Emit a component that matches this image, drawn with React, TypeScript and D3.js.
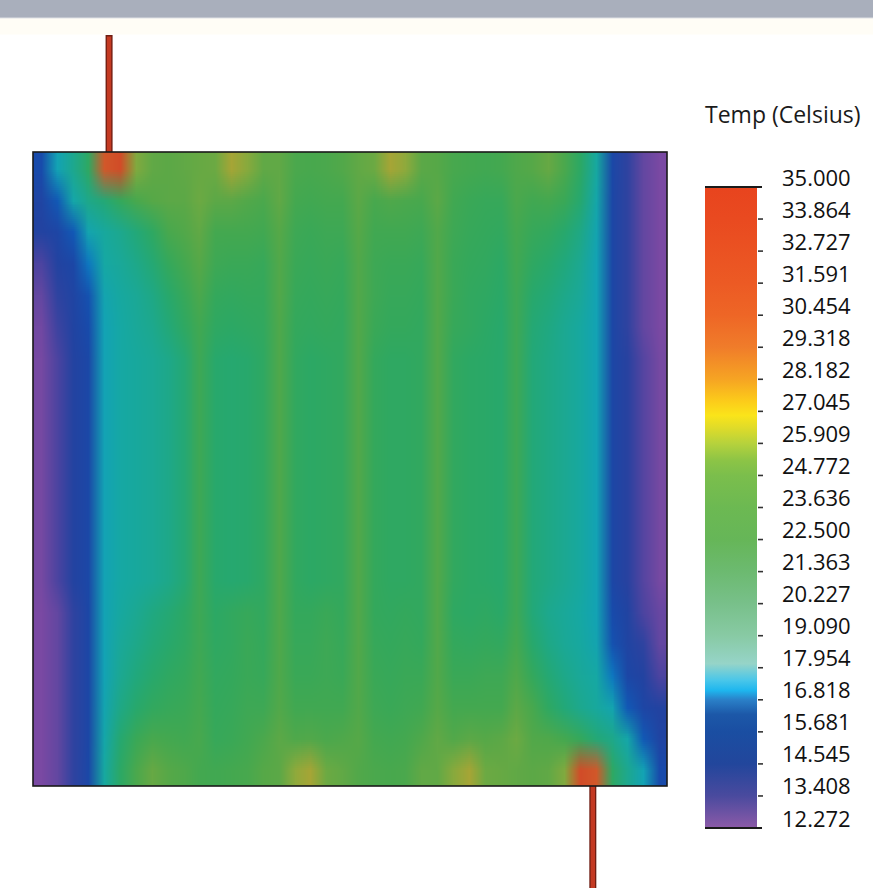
import React, { useMemo } from "react";
import * as d3 from "d3";

const W = 873;
const H = 888;

// legend ticks (Temp, Celsius)
const tickLabels = [
  "35.000", "33.864", "32.727", "31.591", "30.454", "29.318", "28.182",
  "27.045", "25.909", "24.772", "23.636", "22.500", "21.363", "20.227",
  "19.090", "17.954", "16.818", "15.681", "14.545", "13.408", "12.272",
];
const tMax = 35.0;
const tMin = 12.272;

// colour ramp of the legend bar
const legendStops = [35.0, 33.864, 31.591, 30.454, 29.318, 28.182, 27.4, 26.9, 26.5, 25.909, 25.3, 24.772, 23.636, 22.5, 21.363, 20.227, 19.09, 18.1, 17.5, 17.15, 16.818, 16.3, 15.681, 14.545, 13.408, 12.272];
const legendColors = ["#e8441e", "#e94a20", "#ec5a24", "#ee6626", "#f07c2a", "#f6a423", "#fccc1a", "#fae41a", "#e2dc28", "#b6d23c", "#8cc446", "#7bbe4c", "#6cb952", "#66b658", "#6cba70", "#78c08a", "#88caa4", "#96d4c8", "#48c6ea", "#1eb6ee", "#2a80c8", "#1c58a8", "#1a4ea2", "#22469c", "#4a4a9e", "#8c5aa8"];

// same ramp as rendered (shaded) on the plate
const fieldStops = [12.3, 13.4, 14.5, 15.7, 16.6, 17.3, 18.2, 19.2, 20.3, 21.2, 22.0, 23.0, 24.0, 25.0, 26.0, 27.0, 28.5, 30.5, 33.0, 35.0];
const fieldColors = ["#7f4aa3", "#4c44a0", "#2442a0", "#1a48a8", "#0c66c0", "#12a0bc", "#16a8a4", "#1ca892", "#22a87a", "#2aa868", "#34a85c", "#44a850", "#56a848", "#72aa42", "#96aa3a", "#b0a234", "#c68a30", "#d06a2c", "#d24c28", "#cc3e22"];

// plate temperatures, 40 columns (left -> right), rows top -> bottom
const row00 = [15.8, 17.6, 19.4, 21.6, 32.0, 33.0, 25.4, 24.4, 24.2, 24.4, 24.6, 24.8, 26.6, 25.6, 24.4, 24.4, 23.4, 23.2, 23.4, 23.8, 24.4, 24.8, 26.6, 25.8, 24.2, 24.0, 23.2, 23.0, 22.8, 23.0, 23.6, 24.0, 24.6, 23.4, 21.4, 18.4, 15.6, 14.2, 12.9, 12.4];
const row01 = [15.0, 16.2, 18.0, 19.6, 20.5, 22.0, 23.2, 24.0, 24.2, 24.2, 24.8, 24.2, 24.2, 23.8, 23.4, 24.4, 23.0, 22.8, 23.0, 23.0, 24.2, 23.2, 23.6, 23.4, 23.2, 24.2, 22.8, 22.4, 22.2, 22.2, 23.4, 22.8, 23.0, 22.4, 20.8, 18.0, 15.4, 14.2, 12.9, 12.4];
const row02 = [14.6, 15.2, 16.2, 17.8, 18.6, 19.4, 20.4, 21.6, 23.2, 23.8, 24.4, 23.0, 23.0, 23.0, 22.8, 24.0, 22.6, 22.4, 22.6, 22.6, 24.0, 22.8, 22.8, 22.8, 22.6, 23.8, 22.6, 22.2, 22.0, 21.8, 23.0, 22.2, 21.8, 21.0, 19.8, 17.8, 15.4, 14.2, 12.9, 12.4];
const row03 = [13.4, 14.6, 15.4, 16.8, 18.2, 18.8, 19.6, 20.6, 22.0, 23.0, 24.0, 22.6, 22.4, 22.4, 22.2, 23.8, 22.4, 22.2, 22.4, 22.2, 23.8, 22.6, 22.4, 22.4, 22.2, 23.8, 22.4, 22.0, 21.8, 21.4, 22.8, 21.6, 21.0, 20.2, 19.2, 17.6, 15.4, 14.2, 12.9, 12.4];
const row04 = [12.9, 14.2, 15.0, 16.0, 17.8, 18.4, 19.0, 19.8, 21.0, 22.2, 23.4, 22.0, 21.8, 22.0, 22.0, 23.8, 22.2, 22.0, 22.2, 22.0, 23.8, 22.6, 22.2, 22.2, 22.0, 23.8, 22.4, 21.8, 21.6, 21.2, 22.6, 21.0, 20.4, 19.6, 18.8, 17.6, 15.4, 14.2, 12.9, 12.4];
const row05 = [12.6, 13.8, 14.8, 15.8, 17.6, 18.2, 18.8, 19.4, 20.4, 21.6, 22.8, 21.6, 21.4, 21.6, 21.8, 23.6, 22.0, 21.8, 22.0, 21.8, 23.8, 22.4, 22.0, 22.0, 21.8, 23.8, 22.2, 21.8, 21.4, 21.0, 22.6, 20.6, 20.0, 19.2, 18.4, 17.6, 15.4, 14.2, 12.9, 12.4];
const rowMid = [12.5, 13.4, 14.6, 15.6, 17.6, 18.2, 18.6, 19.0, 19.6, 20.6, 22.6, 21.0, 20.8, 21.0, 21.6, 23.6, 21.8, 21.4, 21.6, 21.8, 23.8, 22.0, 21.6, 21.6, 21.8, 23.8, 21.8, 21.4, 21.2, 21.0, 22.6, 20.4, 19.8, 19.2, 18.4, 17.6, 15.4, 14.4, 13.2, 12.5];
const row14 = [12.4, 12.9, 14.2, 15.4, 17.6, 18.4, 19.2, 20.0, 20.6, 21.4, 22.6, 21.4, 21.8, 22.2, 21.8, 23.6, 22.0, 22.0, 22.4, 22.0, 23.8, 22.0, 21.8, 22.0, 21.8, 23.8, 21.6, 21.4, 21.6, 21.2, 22.6, 20.4, 19.4, 18.8, 18.2, 17.6, 15.8, 14.8, 13.4, 12.8];
const row15 = [12.4, 12.9, 14.2, 15.4, 17.6, 18.8, 19.6, 20.4, 21.0, 21.6, 22.6, 21.6, 21.8, 22.4, 22.0, 23.6, 22.2, 22.2, 22.6, 22.2, 23.8, 22.2, 22.0, 22.2, 22.0, 23.8, 22.0, 21.8, 22.0, 21.8, 23.0, 21.0, 19.8, 19.0, 18.4, 17.8, 16.0, 15.0, 14.2, 12.9];
const row16 = [12.4, 12.9, 14.2, 15.4, 17.6, 19.2, 20.2, 21.0, 21.6, 22.0, 22.8, 21.8, 22.0, 22.4, 22.2, 23.6, 22.4, 22.4, 22.6, 22.4, 23.8, 22.4, 22.2, 22.4, 22.4, 23.8, 22.4, 22.4, 22.6, 22.6, 23.6, 22.0, 20.6, 19.6, 18.8, 18.2, 16.8, 15.4, 14.6, 13.4];
const row17 = [12.4, 12.9, 14.2, 15.4, 17.8, 19.8, 21.0, 21.8, 22.2, 22.4, 23.0, 22.0, 22.2, 22.6, 22.6, 23.8, 22.8, 22.8, 22.8, 22.8, 23.8, 22.6, 22.4, 22.6, 22.8, 24.0, 23.0, 23.0, 23.0, 23.0, 24.2, 23.2, 21.6, 20.4, 19.4, 18.6, 17.8, 16.2, 15.2, 14.6];
const row18 = [12.4, 12.9, 14.2, 15.4, 18.0, 20.8, 22.4, 23.2, 23.0, 22.8, 23.2, 22.2, 22.4, 22.8, 23.4, 24.2, 23.6, 23.8, 23.4, 23.6, 24.0, 23.0, 22.8, 23.0, 23.6, 24.4, 23.8, 24.2, 24.0, 24.2, 24.8, 23.8, 23.6, 23.0, 22.0, 20.5, 19.6, 18.0, 16.2, 15.0];
const row19 = [12.4, 12.9, 14.2, 15.6, 18.4, 21.4, 23.4, 24.6, 24.0, 23.6, 23.0, 22.8, 23.0, 23.2, 24.0, 24.2, 25.8, 26.6, 24.8, 24.4, 23.8, 23.4, 23.2, 23.4, 24.4, 24.4, 25.6, 26.6, 24.8, 24.6, 24.4, 24.2, 24.4, 25.4, 33.0, 32.0, 21.6, 19.4, 17.6, 15.8];

const tempGrid = [
  row00, row01, row02, row03, row04, row05,
  rowMid, rowMid, rowMid, rowMid, rowMid, rowMid, rowMid, rowMid,
  row14, row15, row16, row17, row18, row19,
];

// inlet / outlet pipes, position along the plate width (0..1)
const pipes = [
  { pos: 0.12, side: "top" },
  { pos: 0.883, side: "bottom" },
];

const plate = { x: 33, y: 152, size: 634 };
const bar = { x: 705, y: 187, w: 52, h: 641 };

export default function App() {
  const fieldColor = d3.scaleLinear<string>().domain(fieldStops).range(fieldColors).interpolate(d3.interpolateRgb).clamp(true);
  const xPlate = d3.scaleLinear().domain([0, 1]).range([plate.x, plate.x + plate.size]);
  const yBar = d3.scaleLinear().domain([tMin, tMax]).range([bar.y + bar.h, bar.y]);

  // one pixel per grid cell; the browser smooths it when scaling the image up
  const fieldUrl = useMemo(() => {
    const nr = tempGrid.length;
    const nc = tempGrid[0].length;
    const cv = document.createElement("canvas");
    cv.width = nc;
    cv.height = nr;
    const ctx = cv.getContext("2d")!;
    const img = ctx.createImageData(nc, nr);
    tempGrid.forEach((row, j) => {
      row.forEach((t, i) => {
        const c = d3.rgb(fieldColor(t));
        const k = (j * nc + i) * 4;
        img.data[k] = c.r;
        img.data[k + 1] = c.g;
        img.data[k + 2] = c.b;
        img.data[k + 3] = 255;
      });
    });
    ctx.putImageData(img, 0, 0);
    return cv.toDataURL();
  }, []);

  const span = tMax - tMin;

  return (
    <svg width={W} height={H} style={{ position: "absolute", left: 0, top: 0, background: "#fff" }}>
      <defs>
        <linearGradient id="tempGrad" x1="0" y1="0" x2="0" y2="1">
          {legendStops.map((v, i) => (
            <stop key={i} offset={(tMax - v) / span} stopColor={legendColors[i]} />
          ))}
        </linearGradient>
      </defs>

      {/* window banner */}
      <rect x={0} y={0} width={W} height={17} fill="#a9afbc" />
      <rect x={0} y={17} width={W} height={1.5} fill="#c3c7d0" />
      <rect x={0} y={18.5} width={W} height={16} fill="#fffdf6" />

      {/* pipes */}
      {pipes.map((p, i) => {
        const x = xPlate(p.pos);
        const y1 = p.side === "top" ? 35 : plate.y + plate.size;
        const y2 = p.side === "top" ? plate.y : H;
        return (
          <g key={i}>
            <rect x={x - 3.5} y={y1} width={7} height={y2 - y1} fill="#6e1d12" />
            <rect x={x - 2.2} y={y1 + (p.side === "top" ? 1.5 : 0)} width={4.4} height={y2 - y1} fill="#c43a22" />
          </g>
        );
      })}

      {/* temperature field */}
      <image href={fieldUrl} x={plate.x} y={plate.y} width={plate.size} height={plate.size} preserveAspectRatio="none" />
      <rect x={plate.x} y={plate.y} width={plate.size} height={plate.size} fill="none" stroke="#1a1a1a" strokeWidth={1.6} />

      {/* legend */}
      <text x={bar.x} y={123} fontFamily="'Open Sans', sans-serif" fontSize={23} fill="#1a1a1a">Temp (Celsius)</text>
      <rect x={bar.x} y={bar.y} width={bar.w} height={bar.h} fill="url(#tempGrad)" />
      <line x1={bar.x} x2={bar.x + bar.w + 5} y1={bar.y} y2={bar.y} stroke="#1a1a1a" strokeWidth={2} />
      <line x1={bar.x} x2={bar.x + bar.w + 5} y1={bar.y + bar.h} y2={bar.y + bar.h} stroke="#1a1a1a" strokeWidth={2} />
      {tickLabels.map((s, i) => {
        const v = +s;
        const y = yBar(v);
        return (
          <g key={s}>
            {i > 0 && i < tickLabels.length - 1 && (
              <line x1={bar.x + bar.w + 1} x2={bar.x + bar.w + 6} y1={y} y2={y} stroke="#333" strokeWidth={1.6} />
            )}
            <text x={782} y={y - 1.5} fontFamily="'Open Sans', sans-serif" fontSize={22} fill="#111">{s}</text>
          </g>
        );
      })}
    </svg>
  );
}
